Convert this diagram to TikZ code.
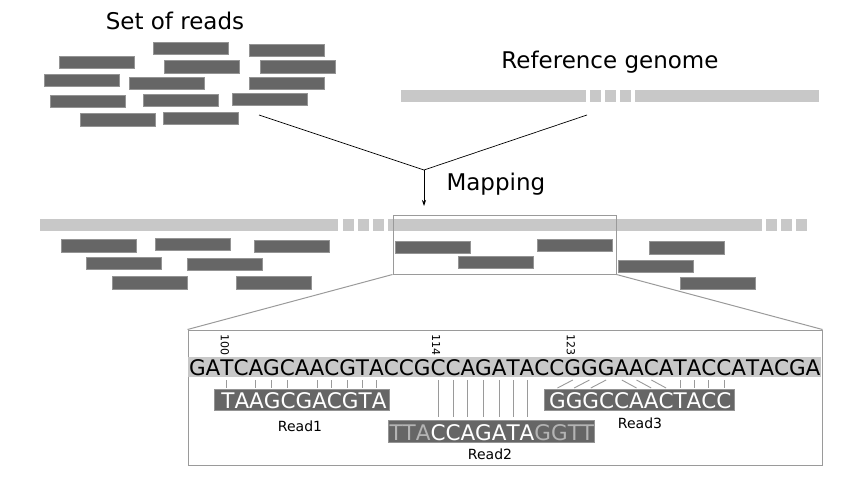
\documentclass[tikz,border=0pt]{standalone}
\usepackage{fontspec}
\setmainfont{DejaVu Sans}
\usetikzlibrary{arrows.meta, positioning, backgrounds}

\definecolor{readgray}{HTML}{666666}
\definecolor{refgray}{HTML}{C8C8C8}
\definecolor{framegray}{HTML}{9A9A9A}
\definecolor{clipgray}{HTML}{B4B4B4}

\begin{document}
\begin{tikzpicture}[x=1pt, y=-1pt,
    title/.style={font=\fontsize{23}{27}\selectfont, anchor=base},
    readbar/.style={fill=readgray, draw=readgray!70!white, line width=0.5pt,
      minimum width=75pt, minimum height=12.5pt, inner sep=0pt},
    frame/.style={draw=framegray, line width=1pt, inner sep=0pt},
    refl/.style={anchor=base west, inner sep=0pt, outer sep=0pt,
      text height=15.5pt, text depth=0pt, font=\fontsize{21.5}{24}\selectfont},
    readl/.style={refl, text=white},
    clipl/.style={refl, text=clipgray},
    idx/.style={font=\fontsize{11}{13}\selectfont, rotate=-90, anchor=east, inner sep=0pt},
    readlabel/.style={font=\fontsize{14}{16}\selectfont, anchor=base},
    tick/.style={draw=framegray, line width=0.9pt}]
    \useasboundingbox (0,0) rectangle (860,477);

    % titles
    \node[title] (readstitle) at (175,29) {Set of reads};
    \node[title] (genometitle) at (610,68) {Reference genome};
    \node[title, anchor=base west] (maptitle) at (443,190) {Mapping};

    % set of reads
    \foreach \x/\y [count=\i] in {190.5/48, 287/50, 97/62, 202/66.5, 297.5/66.5,
        81.5/80, 166.5/83, 287/83, 87.5/101, 180.5/100, 270/99, 117.5/119.5, 200.5/118}
        \node[readbar] (set\i) at (\x,\y) {};

    % reference genome
    \fill[refgray] (401,90) rectangle (586,102);
    \foreach \x in {590,605,620}
        \fill[refgray] (\x,90) rectangle ++(11,12);
    \fill[refgray] (635,90) rectangle (819,102);

    % mapping
    \coordinate (readsout) at (259,115);
    \coordinate (genomeout) at (587,115);
    \coordinate (join) at (424,170);
    \coordinate (mapped) at (424,206);
    \draw[line width=0.7pt] (readsout) -- (join) -- (genomeout);
    \draw[-{Stealth[length=6pt, width=4pt]}, line width=0.7pt] (join) -- (mapped);

    % mapped genome and reads
    \fill[refgray] (40,219) rectangle (338,231);
    \foreach \x in {343,358,373}
        \fill[refgray] (\x,219) rectangle ++(11,12);
    \fill[refgray] (388,219) rectangle (762,231);
    \foreach \x in {766,781,796}
        \fill[refgray] (\x,219) rectangle ++(11,12);
    \foreach \x/\y [count=\i] in {98.5/245.5, 192.5/244, 291.5/246, 123.5/263, 224.5/264,
        149.5/282.5, 273.5/282.5, 432.5/247, 574.5/245, 495.5/262, 686.5/247.5,
        655.5/266, 718/283}
        \node[readbar] (hit\i) at (\x,\y) {};

    % zoom
    \node[frame, minimum width=223pt, minimum height=59pt] (zoomframe) at (504.5,244.5) {};
    \node[frame, minimum width=634pt, minimum height=135pt] (detail) at (505,397.5) {};
    \draw[frame] (zoomframe.south west) -- (detail.north west);
    \draw[frame] (zoomframe.south east) -- (detail.north east);

    % reference sequence
    \fill[refgray] (188,357) rectangle (821,377);
    \node[refl] (r0) at (188,375) {};
    \foreach \l [count=\i, remember=\i as \j (initially 0)] in {G,A,T,C,A,G,C,A,A,C,
        G,T,A,C,C,G,C,C,A,G,A,T,A,C,C,G,G,G,A,A,C,A,T,A,C,C,A,T,A,C,G,A}
        \node[refl] (r\i) at (r\j.base east) {\l};
    \node[idx] (pos100) at ([xshift=-2pt, yshift=4pt]r3.north) {100};
    \node[idx] (pos114) at ([xshift=-2pt, yshift=4pt]r17.north) {114};
    \node[idx] (pos123) at ([xshift=-2pt, yshift=4pt]r26.north) {123};

    % Read1
    \node[readl] (a0) at (r3.base west |- 0,408) {};
    \foreach \l [count=\i, remember=\i as \j (initially 0)] in {T,A,A,G,C,G,A,C,G,T,A}
        \node[readl] (a\i) at (a\j.base east) {\l};

    % Read2
    \node[readl] (b4) at (r17.base west |- 0,440) {C};
    \foreach \l [count=\i from 5, remember=\i as \j (initially 4)] in {C,A,G,A,T,A}
        \node[readl] (b\i) at (b\j.base east) {\l};
    \foreach \l [count=\i from 11, remember=\i as \j (initially 10)] in {G,G,T,T}
        \node[clipl] (b\i) at (b\j.base east) {\l};
    \foreach \l/\i/\j in {A/3/4, T/2/3, T/1/2}
        \node[clipl, anchor=base east] (b\i) at (b\j.base west) {\l};

    % Read3
    \node[readl] (c9) at (r33.base west |- 0,408) {T};
    \foreach \l [count=\i from 10, remember=\i as \j (initially 9)] in {A,C,C}
        \node[readl] (c\i) at (c\j.base east) {\l};
    \foreach \l/\i/\j in {C/8/9, A/7/8, A/6/7, C/5/6, C/4/5, G/3/4, G/2/3, G/1/2}
        \node[readl, anchor=base east] (c\i) at (c\j.base west) {\l};

    \begin{pgfonlayer}{background}
        \filldraw[readgray, draw=readgray!70!white, line width=0.5pt]
            ([xshift=-7pt, yshift=-2pt]a1.base west) rectangle ([xshift=3pt, yshift=19pt]a11.base east)
            ([xshift=-1pt, yshift=-2pt]b1.base west) rectangle ([xshift=0pt, yshift=20pt]b14.base east)
            ([xshift=-5pt, yshift=-2pt]c1.base west) rectangle ([xshift=3pt, yshift=19pt]c12.base east);
    \end{pgfonlayer}

    \node[readlabel] (read1) at (300,431) {Read1};
    \node[readlabel] (read2) at (490,459) {Read2};
    \node[readlabel] (read3) at (640,428) {Read3};

    % matches
    \foreach \i/\k in {1/3, 3/5, 4/6, 5/7, 7/9, 8/10, 9/11, 10/12, 11/13}
        \draw[tick] ([yshift=-5pt]r\k.south) -- ([yshift=4.5pt]r\k.south |- a\i.north);
    \foreach \i/\k in {4/17, 5/18, 6/19, 7/20, 8/21, 9/22, 10/23}
        \draw[tick] ([yshift=-5pt]r\k.south) -- ([yshift=7.5pt]r\k.south |- b\i.north);
    \foreach \i/\k in {1/26, 2/27, 3/28, 6/29, 7/30, 8/31}
        \draw[tick] ([yshift=-5pt]r\k.south) -- ([yshift=4.5pt]c\i.north);
    \foreach \i/\k in {9/33, 10/34, 11/35, 12/36}
        \draw[tick] ([yshift=-5pt]r\k.south) -- ([yshift=4.5pt]r\k.south |- c\i.north);
\end{tikzpicture}
\end{document}
